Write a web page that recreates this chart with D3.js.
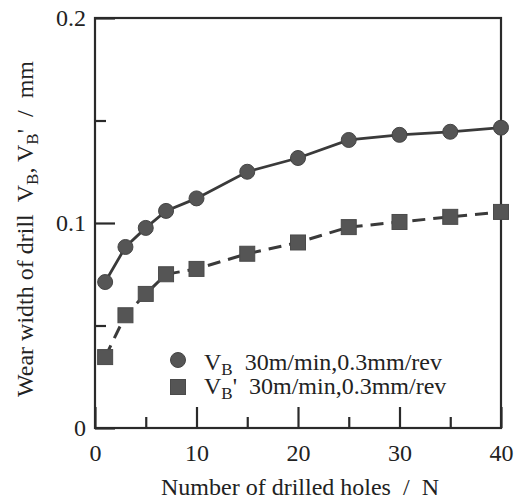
<!DOCTYPE html>
<html><head><meta charset="utf-8">
<script src="https://cdn.jsdelivr.net/npm/d3@7"></script>
<style>
body{margin:0;background:#fff;}
svg{display:block;font-family:"Liberation Serif","Times New Roman",serif;}
</style></head>
<body>
<svg id="c" width="515" height="502"></svg>
<script>
const holes = [1, 3, 5, 7, 10, 15, 20, 25, 30, 35, 40];
const vb = [0.0712, 0.0883, 0.0976, 0.1059, 0.112, 0.125, 0.1317, 0.1405, 0.143, 0.1445, 0.1465];
const vbPrime = [0.0346, 0.055, 0.0654, 0.075, 0.0776, 0.085, 0.0905, 0.098, 0.1005, 0.103, 0.1054];
const xMajor = [0, 10, 20, 30, 40];
const xMinor = [5, 15, 25, 35];
const yMajor = [0, 0.1, 0.2];
const yMinor = [0.05, 0.15];
const legendText = "30m/min,0.3mm/rev";

const svg = d3.select("#c");
const L = 95, R = 501, T = 18, B = 428;
const x = d3.scaleLinear().domain([0, 40]).range([L, R]);
const y = d3.scaleLinear().domain([0, 0.2]).range([B, T]);
const axisCol = "#2a2a2a";
const FONT = "'Liberation Serif', 'Times New Roman', serif";

// frame
svg.append("rect").attr("x", L).attr("y", T).attr("width", R - L).attr("height", B - T)
  .attr("fill", "none").attr("stroke", axisCol).attr("stroke-width", 2.2);

function styleAxis(g) {
  g.select(".domain").remove();
  g.selectAll(".tick line").attr("stroke", axisCol).attr("stroke-width", 2.2);
  g.selectAll(".tick text").attr("fill", "#222").attr("font-size", 24)
    .attr("font-family", FONT);
}

// x axis major
svg.append("g").attr("transform", `translate(0,${B})`)
  .call(d3.axisBottom(x).tickValues(xMajor).tickSizeInner(-21).tickSizeOuter(0).tickPadding(11).tickFormat(d3.format("d")))
  .call(styleAxis)
  .call(g => g.selectAll(".tick text").attr("dy", "0.9em"));
// x axis minor
svg.append("g").attr("transform", `translate(0,${B})`)
  .call(d3.axisBottom(x).tickValues(xMinor).tickSizeInner(-11).tickSizeOuter(0).tickFormat(""))
  .call(styleAxis);
// y axis major
svg.append("g").attr("transform", `translate(${L},0)`)
  .call(d3.axisLeft(y).tickValues(yMajor).tickSizeInner(-20).tickSizeOuter(0).tickPadding(9)
    .tickFormat(d => d === 0 ? "0" : d3.format(".1f")(d)))
  .call(styleAxis)
  .call(g => g.selectAll(".tick text").attr("dy", "0.3em"));
// y axis minor
svg.append("g").attr("transform", `translate(${L},0)`)
  .call(d3.axisLeft(y).tickValues(yMinor).tickSizeInner(-11).tickSizeOuter(0).tickFormat(""))
  .call(styleAxis);

const dataVB = holes.map((h, i) => [h, vb[i]]);
const dataVBp = holes.map((h, i) => [h, vbPrime[i]]);
const line = d3.line().x(d => x(d[0])).y(d => y(d[1]));

svg.append("path").datum(dataVB).attr("d", line).attr("fill", "none")
  .attr("stroke", "#3a3a3a").attr("stroke-width", 2.8);
svg.append("path").datum(dataVBp).attr("d", line).attr("fill", "none")
  .attr("stroke", "#3a3a3a").attr("stroke-width", 3).attr("stroke-dasharray", "13,8");

const markFill = "#555";
svg.append("g").selectAll("circle").data(dataVB).join("circle")
  .attr("cx", d => x(d[0])).attr("cy", d => y(d[1])).attr("r", 7.5)
  .attr("fill", markFill).attr("stroke", "#444").attr("stroke-width", 1);
const s = 15;
svg.append("g").selectAll("rect").data(dataVBp).join("rect")
  .attr("x", d => x(d[0]) - s / 2).attr("y", d => y(d[1]) - s / 2)
  .attr("width", s).attr("height", s)
  .attr("fill", markFill).attr("stroke", "#4a4a4a").attr("stroke-width", 1);

// legend
const lg = svg.append("g");
lg.append("circle").attr("cx", 178).attr("cy", 360).attr("r", 7.5).attr("fill", markFill).attr("stroke", "#444");
lg.append("rect").attr("x", 178 - s / 2).attr("y", 387 - s / 2).attr("width", s).attr("height", s)
  .attr("fill", markFill).attr("stroke", "#4a4a4a");
function legendLine(yb, prime) {
  const t = lg.append("text").attr("x", 204).attr("y", yb).attr("font-size", 24)
    .attr("font-family", FONT).attr("fill", "#222");
  t.append("tspan").text("V");
  t.append("tspan").attr("dy", 5).attr("font-size", 17).text("B");
  t.append("tspan").attr("dy", -5).text((prime ? "'" : "") + "\u00a0\u00a0" + legendText);
}
legendLine(370, false);
legendLine(394, true);

// x title
svg.append("text").attr("x", 300).attr("y", 495).attr("text-anchor", "middle")
  .attr("font-size", 24).attr("font-family", FONT).attr("fill", "#222")
  .text("Number of drilled holes\u00a0\u00a0/\u00a0\u00a0N");

// y title
const yt = svg.append("text").attr("transform", "translate(33,229) rotate(-90)")
  .attr("text-anchor", "middle").attr("font-size", 24).attr("font-family", FONT).attr("fill", "#222");
yt.append("tspan").text("Wear width of drill\u00a0\u00a0V");
yt.append("tspan").attr("dy", 5).attr("font-size", 17).text("B");
yt.append("tspan").attr("dy", -5).text(", V");
yt.append("tspan").attr("dy", 5).attr("font-size", 17).text("B");
yt.append("tspan").attr("dy", -5).text("'\u00a0\u00a0/\u00a0\u00a0mm");
</script>
</body></html>
